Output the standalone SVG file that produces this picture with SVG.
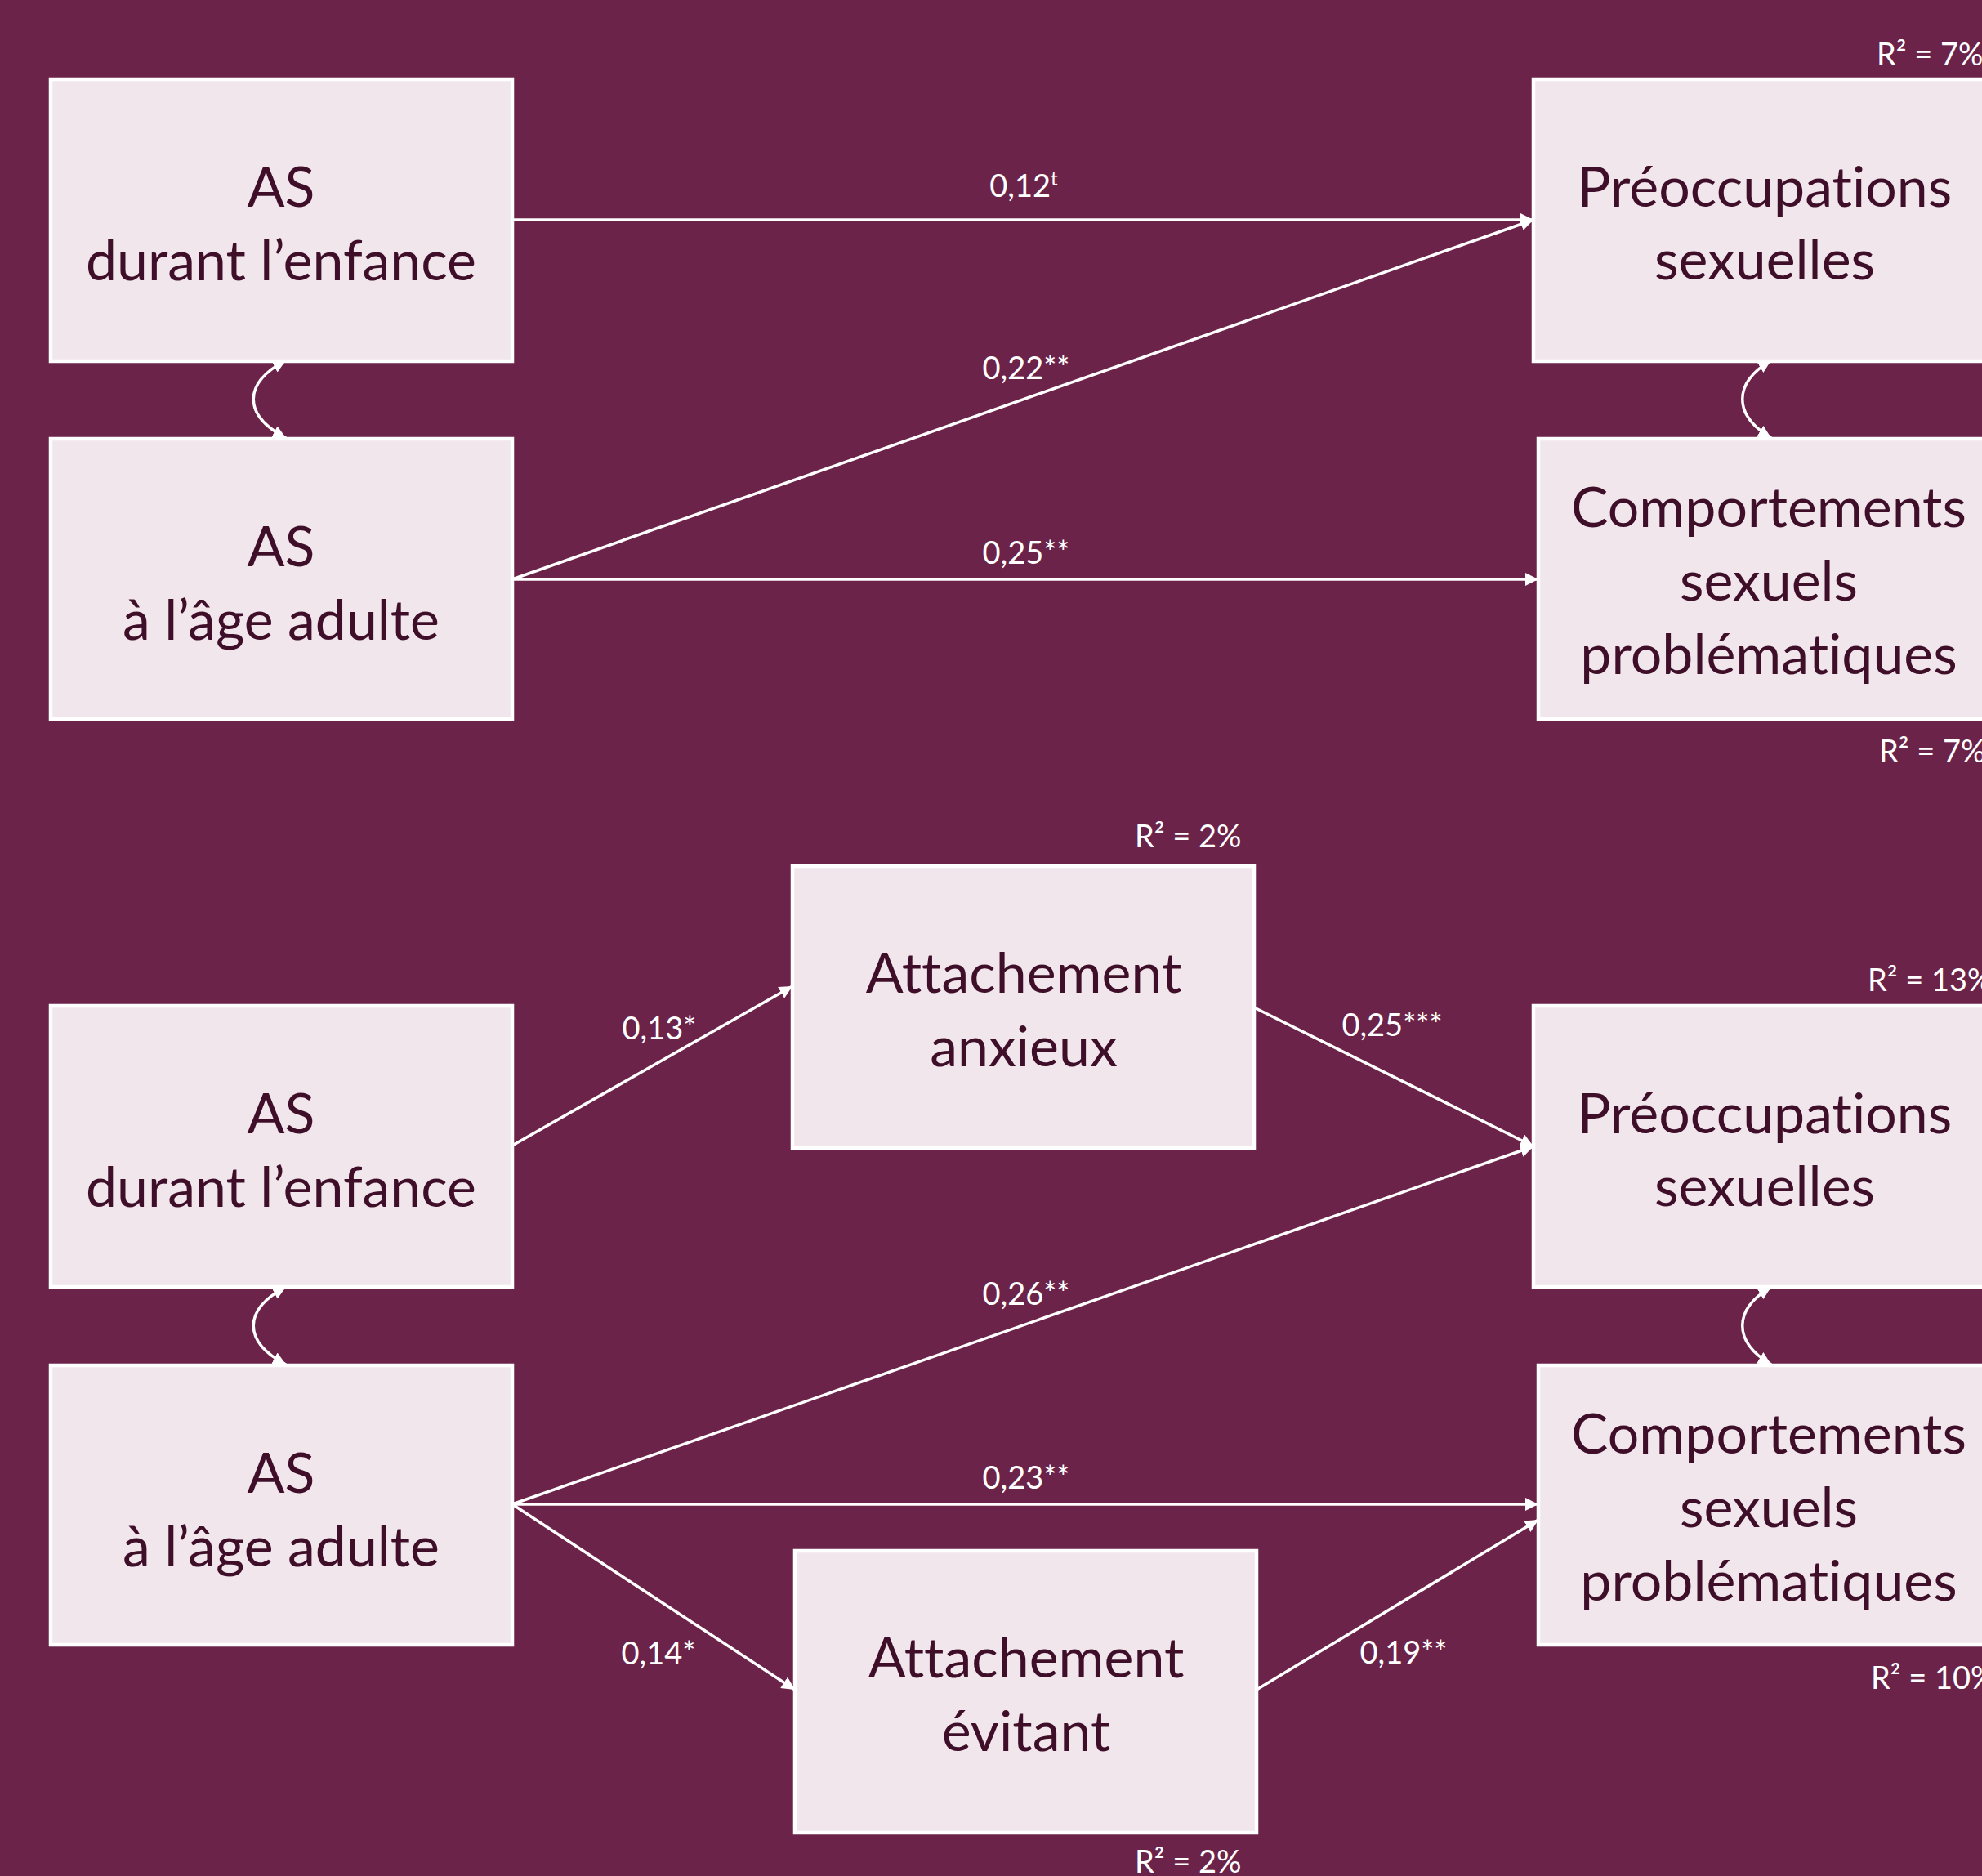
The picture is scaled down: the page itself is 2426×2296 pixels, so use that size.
<svg xmlns="http://www.w3.org/2000/svg" width="2426" height="2296" viewBox="0 0 2426 2296">
<style>
.bg{fill:#6C2349}
.box{fill:#F0E6EB;stroke:#FFFFFF;stroke-width:4.5}
text{font-variant-ligatures:none;font-feature-settings:"liga" 0,"dlig" 0}
.t{font-family:Lato,"Open Sans","Liberation Sans",sans-serif;font-size:68px;fill:#3F0F2A;text-anchor:middle}
.lbl{font-family:Lato,"Open Sans","Liberation Sans",sans-serif;font-size:38px;fill:#FFFFFF;text-anchor:middle}
.r2{font-family:Lato,"Open Sans","Liberation Sans",sans-serif;font-size:38px;fill:#FFFFFF}
.c{fill:none;stroke:#FFFFFF;stroke-width:3.5}
.a{marker-end:url(#ah)}
.d{marker-start:url(#ah2);marker-end:url(#ah2)}
</style>
<defs>
<marker id="ah" markerUnits="userSpaceOnUse" markerWidth="18" markerHeight="18" refX="16" refY="8" orient="auto">
<path d="M0,0 L16,8 L0,16 z" fill="#FFFFFF"/>
</marker>
<marker id="ah2" markerUnits="userSpaceOnUse" markerWidth="18" markerHeight="18" refX="16" refY="8" orient="auto-start-reverse">
<path d="M0,0 L16,8 L0,16 z" fill="#FFFFFF"/>
</marker>
</defs>
<rect class="bg" x="0" y="0" width="2426" height="2296"/>

<g id="connectors">
<path class="c a" d="M627 269 L1877 269"/>
<path class="c a" d="M627 709 L1877 269"/>
<path class="c a" d="M627 709 L1883 709"/>
<path class="c d" d="M350 441 C297 469 297 508 350 536"/>
<path class="c d" d="M2168 441 C2121 469 2121 508 2168 536"/>
<path class="c a" d="M627 1402 L970 1207"/>
<path class="c a" d="M1535 1233 L1877 1403"/>
<path class="c a" d="M627 1841 L1877 1403"/>
<path class="c a" d="M627 1841 L1883 1841"/>
<path class="c a" d="M627 1841 L973 2068"/>
<path class="c a" d="M1538 2068 L1883 1860"/>
<path class="c d" d="M350 1575 C297 1603 297 1642 350 1670"/>
<path class="c d" d="M2168 1575 C2121 1603 2121 1642 2168 1670"/>
<text class="lbl" x="1253" y="241">0,12<tspan font-size="24" dy="-14">t</tspan></text>
<text class="lbl" x="1256" y="464">0,22**</text>
<text class="lbl" x="1256" y="690">0,25**</text>
<text class="lbl" x="807" y="1272">0,13*</text>
<text class="lbl" x="1704" y="1268">0,25***</text>
<text class="lbl" x="1256" y="1597">0,26**</text>
<text class="lbl" x="1256" y="1822">0,23**</text>
<text class="lbl" x="806" y="2037">0,14*</text>
<text class="lbl" x="1718" y="2036">0,19**</text>
</g>

<g id="r2-labels">
<text class="r2" x="2297" y="80">R² = 7%</text>
<text class="r2" x="2300" y="933">R² = 7%</text>
<text class="r2" x="1389" y="1037">R² = 2%</text>
<text class="r2" x="2286" y="1213">R² = 13%</text>
<text class="r2" x="2290" y="2067">R² = 10%</text>
<text class="r2" x="1389" y="2292">R² = 2%</text>
</g>

<g id="as-enfance-1">
<rect class="box" x="62" y="97" width="565" height="345"/>
<text class="t" x="344" y="253">AS</text>
<text class="t" x="344" y="343">durant l’enfance</text>
</g>
<g id="as-adulte-1">
<rect class="box" x="62" y="537" width="565" height="343"/>
<text class="t" x="344" y="693">AS</text>
<text class="t" x="344" y="783">à l’âge adulte</text>
</g>
<g id="preoccupations-1">
<rect class="box" x="1877" y="97" width="565" height="345"/>
<text class="t" x="2160" y="253">Préoccupations</text>
<text class="t" x="2160" y="342">sexuelles</text>
</g>
<g id="comportements-1">
<rect class="box" x="1883" y="537" width="565" height="343"/>
<text class="t" x="2165" y="645">Comportements</text>
<text class="t" x="2165" y="735">sexuels</text>
<text class="t" x="2165" y="825">problématiques</text>
</g>

<g id="attachement-anxieux">
<rect class="box" x="970" y="1060" width="565" height="345"/>
<text class="t" x="1253" y="1215">Attachement</text>
<text class="t" x="1253" y="1305">anxieux</text>
</g>
<g id="as-enfance-2">
<rect class="box" x="62" y="1231" width="565" height="344"/>
<text class="t" x="344" y="1387">AS</text>
<text class="t" x="344" y="1477">durant l’enfance</text>
</g>
<g id="as-adulte-2">
<rect class="box" x="62" y="1671" width="565" height="342"/>
<text class="t" x="344" y="1827">AS</text>
<text class="t" x="344" y="1917">à l’âge adulte</text>
</g>
<g id="preoccupations-2">
<rect class="box" x="1877" y="1231" width="565" height="344"/>
<text class="t" x="2160" y="1387">Préoccupations</text>
<text class="t" x="2160" y="1476">sexuelles</text>
</g>
<g id="comportements-2">
<rect class="box" x="1883" y="1671" width="565" height="342"/>
<text class="t" x="2165" y="1779">Comportements</text>
<text class="t" x="2165" y="1869">sexuels</text>
<text class="t" x="2165" y="1959">problématiques</text>
</g>
<g id="attachement-evitant">
<rect class="box" x="973" y="1898" width="565" height="345"/>
<text class="t" x="1256" y="2053">Attachement</text>
<text class="t" x="1256" y="2143">évitant</text>
</g>
</svg>
